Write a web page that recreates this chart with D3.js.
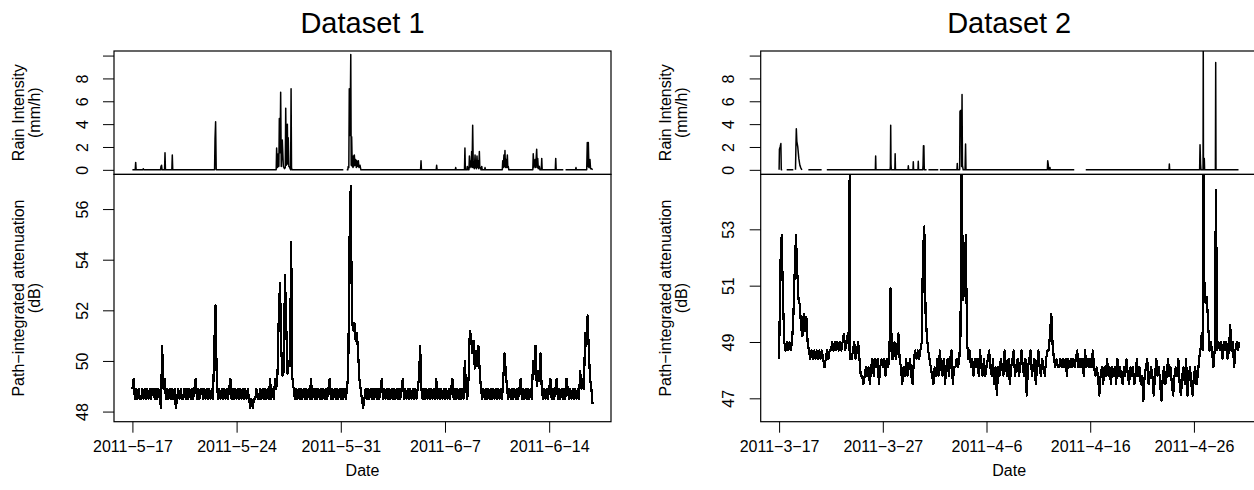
<!DOCTYPE html>
<html>
<head>
<meta charset="utf-8">
<script src="https://cdn.jsdelivr.net/npm/d3@7"></script>
<style>
  body { margin: 0; background: #fff; }
  text { font-family: "Liberation Sans", Arial, Helvetica, sans-serif; fill: #000; }
</style>
</head>
<body>
<svg id="chart" width="1254" height="490"></svg>
<script>
// ---- data ----
var start1 = "2011-05-17", start2 = "2011-03-17";
var ticks1 = ["2011-05-17", "2011-05-24", "2011-05-31", "2011-06-07", "2011-06-14"];
var ticks2 = ["2011-03-17", "2011-03-27", "2011-04-06", "2011-04-16", "2011-04-26"];
var rainTicks = [0, 2, 4, 6, 8, 10];
var attTicks1 = [48, 50, 52, 54, 56];
var attTicks2 = [47, 49, 51, 53];

// rain intensity (mm/h): [days since start, value], null = missing data
var rain1 = [
  [0,0],[0.19,0],[0.22,0.65],[0.25,0],[0.7,0],[0.73,0.1],[0.76,0],[1.89,0],[1.92,0.3],[1.96,0.4],[1.99,0],
  [2.16,0],[2.19,1.5],[2.22,0],[2.65,0],[2.68,1.3],[2.71,0],[5.52,0],[5.55,2.7],[5.59,4.2],[5.63,0],
  [9.66,0],[9.69,1.9],[9.73,0.2],[9.77,0.3],[9.8,1.4],[9.84,0.3],[9.87,4.5],[9.92,1.5],[9.96,6.8],[10.0,0.3],
  [10.07,2.6],[10.14,0.3],[10.22,0.1],[10.27,0.2],[10.3,5.4],[10.34,0.4],[10.37,3.0],[10.41,4.0],[10.44,0.5],
  [10.47,2.8],[10.51,0.3],[10.54,0.3],[10.6,0.1],[10.63,0],[10.66,7.1],[10.69,0.2],[10.72,0],[14.17,0], null,
  [14.4,0],[14.47,0],[14.5,0.3],[14.54,0.2],[14.57,7.1],[14.62,3.0],[14.67,10.1],[14.7,0.4],[14.73,2.9],[14.77,0.3],
  [14.8,0.9],[14.82,0.2],[14.84,1.2],[14.87,0.3],[14.91,1.3],[14.95,0.4],[15.0,0.9],[15.04,0.2],[15.07,0.8],
  [15.12,0.3],[15.18,0.8],[15.22,0.2],[15.29,0.4],[15.35,0],[19.36,0],[19.39,0.8],[19.42,0],[20.41,0],[20.44,0.4],
  [20.47,0],[21.69,0],[21.72,0.2],[21.75,0],[22.31,0],[22.34,1.9],[22.37,0],[22.47,0],[22.5,0.3],[22.56,0],
  [22.61,0],[22.64,1.2],[22.68,0.2],[22.73,0.8],[22.76,0.3],[22.79,1.6],[22.82,0.2],[22.86,3.9],[22.9,0.2],
  [22.93,0.5],[22.97,0.1],[23.02,1.3],[23.05,0.2],[23.08,0.6],[23.11,0.1],[23.15,1.2],[23.19,0.2],[23.24,0.8],
  [23.27,0.1],[23.31,1.6],[23.34,0.2],[23.37,0.2],[23.42,0],[23.47,0.3],[23.5,0],[23.66,0],[23.69,0.2],[23.72,0],
  [24.85,0],[24.88,0.8],[24.92,0.2],[24.96,1.3],[25.0,0.3],[25.03,1.7],[25.06,0.2],[25.1,0.9],[25.14,0.2],
  [25.19,1.3],[25.22,0.2],[25.25,0.3],[25.29,0],[26.9,0],[26.93,1.4],[26.97,0.2],[27.05,0.9],[27.09,0.2],
  [27.16,1.8],[27.2,0.2],[27.23,1.0],[27.27,0.1],[27.34,0.3],[27.38,0],[27.47,0],[27.5,1.0],[27.53,0],
  [28.41,0],[28.44,1.0],[28.47,0],[28.95,0], null,
  [29.1,0],[29.77,0],[29.8,0.2],[29.83,0],[30.52,0],[30.56,2.4],[30.6,0.3],[30.63,2.4],[30.67,0.2],[30.74,0.9],
  [30.78,0.1],[30.85,0.1],[30.92,0]
];

var rain2 = [
  [0,0],[0.03,1.8],[0.1,2.0],[0.17,2.3],[0.21,0],[0.3,0], null,
  [0.73,0],[1.37,0], null,
  [1.58,0],[1.62,2.0],[1.66,3.6],[1.71,2.5],[1.8,2.0],[1.9,1.0],[2.0,0.4],[2.1,0.15],[2.2,0], null,
  [2.82,0],[4.1,0], null,
  [4.6,0],[9.28,0],[9.31,1.2],[9.34,0],[10.7,0],[10.73,0.3],[10.76,3.9],[10.79,0.5],[10.82,0],[11.16,0],
  [11.19,1.4],[11.22,0],[12.43,0],[12.46,0.35],[12.49,0],[12.91,0],[12.94,0.7],[12.97,0],[13.39,0],[13.42,0.75],
  [13.45,0],[13.85,0],[13.88,0.4],[13.92,2.1],[13.96,2.1],[14.0,0],[14.22,0], null,
  [14.4,0],[15.35,0], null,
  [15.5,0],[17.15,0],[17.18,0.55],[17.21,0],[17.41,0],[17.44,5.1],[17.5,5.2],[17.55,5.2],[17.6,0.3],[17.64,6.6],
  [17.68,0.4],[17.75,0],[17.93,0],[17.98,2.25],[18.02,0],[25.87,0],[25.9,0.8],[25.95,0.5],[26.0,0],[26.1,0],
  [26.12,0.2],[26.14,0],[28.46,0], null,
  [29.57,0],[37.6,0],[37.63,0.5],[37.66,0],[40.55,0],[40.59,2.2],[40.64,0.5],[40.68,0],[40.88,0],[40.9,12],
  [40.92,0],[40.98,0],[41.0,1.0],[41.03,0],[42.07,0],[42.1,9.4],[42.13,0],[44.3,0]
];

// path-integrated attenuation (dB), dataset 1 every 2 hours (one row per day)
var att1PerDay = 12;
var att1 = [
  48.9,49.3,48.5,48.9,48.5,48.9,48.5,48.5,48.9,48.5,48.9,48.5,
  48.9,48.5,48.9,48.5,48.9,48.9,48.5,48.9,48.5,48.9,48.5,48.15,
  50.6,48.9,49.3,48.5,48.9,48.5,48.9,48.5,48.9,48.5,48.9,48.15,
  48.5,48.9,48.5,48.9,48.5,48.5,48.9,48.5,48.9,48.5,48.9,48.5,
  48.9,48.5,48.9,49.3,48.5,48.9,48.5,48.9,48.9,48.5,48.9,48.5,
  48.9,48.5,48.9,48.5,48.9,48.5,50.6,52.2,49.3,48.5,48.9,48.5,
  48.9,48.5,48.9,48.5,48.9,48.5,48.9,49.3,48.5,48.9,48.5,48.9,
  48.5,48.9,48.5,48.9,48.5,48.9,48.5,48.9,48.5,48.9,48.5,48.15,
  48.5,48.15,48.5,48.5,48.9,48.5,48.5,48.9,48.5,48.9,48.5,48.9,
  48.5,48.9,48.5,49.3,48.5,48.9,48.5,49.3,48.9,49.5,51.8,53.1,
  50.5,49.4,49.6,53.4,51.5,49.5,50.0,49.8,54.7,49.3,48.9,48.5,
  48.9,48.5,48.9,48.5,48.9,48.5,48.9,48.5,48.9,48.5,48.9,48.5,
  49.3,48.5,48.9,48.5,48.9,48.5,48.9,48.5,48.9,48.5,48.9,48.5,
  48.9,48.5,48.9,49.3,48.5,48.9,48.5,48.9,48.5,48.9,48.5,48.9,
  48.5,48.9,48.5,48.9,48.5,48.9,49.5,54.7,56.9,51.6,51.2,51.5,
  50.8,51.1,50.3,49.3,48.9,48.5,48.15,48.5,48.9,48.5,48.9,48.5,
  48.9,48.5,48.9,48.5,48.9,48.5,48.9,48.5,48.9,49.3,48.5,48.9,
  48.5,48.9,48.5,48.9,48.5,48.9,48.5,48.9,48.5,48.9,48.5,48.9,
  48.5,48.9,49.3,48.5,48.9,48.5,48.9,48.5,48.9,48.5,48.9,48.5,
  48.9,48.5,48.9,49.3,50.6,48.9,48.5,48.9,48.5,48.9,48.5,48.9,
  48.5,48.9,48.5,48.9,48.5,49.3,48.5,48.9,48.5,48.9,48.5,48.9,
  48.5,48.9,48.5,48.9,48.5,48.9,49.3,48.5,48.9,48.5,48.9,48.5,
  48.9,48.5,48.9,48.5,50.0,48.9,48.5,49.3,51.2,51.0,50.3,50.8,
  49.7,50.4,49.8,50.6,49.6,48.9,48.5,48.9,48.5,48.9,48.5,48.9,
  48.5,48.9,48.5,48.9,48.5,48.9,48.5,48.9,48.5,48.9,48.5,49.3,
  50.3,49.6,48.9,48.5,48.9,48.5,48.9,48.5,48.9,48.5,48.9,48.5,
  48.9,49.3,48.5,48.9,48.5,48.9,48.5,48.9,48.5,48.9,48.5,50.0,
  49.5,50.6,49.0,49.6,49.2,50.3,48.9,48.5,48.9,48.5,48.9,48.5,
  48.9,49.3,48.5,48.9,48.5,48.9,49.3,48.5,48.9,48.5,48.9,48.5,
  48.9,48.5,49.3,48.9,48.5,48.9,48.5,48.9,48.5,48.9,48.5,48.9,
  48.5,49.6,48.9,49.3,48.9,51.1,50.6,51.8,50.3,49.3,48.9,48.3
];
var att1Spikes = [];

// dataset 2 every 3 hours (one row per day)
var att2PerDay = 8;
var att2 = [
  48.4,51.8,52.8,50.5,49.0,48.7,49.0,48.7,
  49.0,48.7,49.0,49.9,51.5,52.8,51.5,50.5,
  50.3,49.5,49.2,50.0,49.4,49.9,49.0,48.7,
  48.4,48.7,48.4,48.7,48.4,48.7,48.4,48.7,
  48.4,48.7,48.4,48.1,48.4,48.7,48.4,48.7,
  48.7,49.0,48.7,49.0,48.7,49.0,48.7,49.0,
  48.7,49.0,49.3,48.7,49.0,49.3,48.7,48.4,
  48.4,48.7,49.0,48.4,48.7,49.0,48.4,47.8,
  47.8,47.5,47.8,48.1,47.8,48.1,47.5,48.1,
  48.4,47.8,48.4,48.1,48.4,47.5,48.1,48.4,
  48.1,48.4,47.8,48.4,48.1,48.4,50.9,48.4,
  48.4,49.0,48.4,48.7,49.3,48.4,48.1,47.5,
  48.1,47.8,48.4,47.8,48.1,48.4,47.8,47.5,
  48.4,48.7,48.4,48.7,48.4,48.7,49.0,52.2,
  53.1,50.0,49.2,48.7,48.4,48.1,47.8,47.5,
  48.1,47.8,48.4,47.8,48.7,48.1,47.8,48.4,
  47.5,48.1,48.4,47.8,48.4,48.7,47.5,48.1,
  48.1,48.4,48.1,48.4,49.3,54.4,50.5,51.0,
  52.8,49.0,48.4,48.7,48.1,48.4,47.8,48.4,
  48.1,48.4,47.8,48.7,48.1,47.8,48.4,47.8,
  48.1,48.4,48.7,48.1,47.8,48.4,47.5,48.1,
  47.1,48.1,47.8,48.4,48.1,47.8,48.7,48.1,
  47.8,48.4,47.5,48.1,48.4,48.7,47.8,48.1,
  48.4,47.8,48.1,48.7,48.1,47.8,48.4,47.1,
  48.1,48.4,48.7,47.8,48.1,48.4,47.5,48.1,
  48.7,48.1,47.8,48.4,48.1,47.8,48.4,48.7,
  48.7,49.3,50.0,48.9,48.4,48.1,48.4,48.1,
  48.1,48.4,48.1,48.4,48.1,48.4,47.8,48.4,
  48.1,48.4,48.1,48.4,48.1,48.4,48.7,48.1,
  48.4,48.1,48.4,47.8,48.7,48.1,48.4,48.1,
  48.4,48.1,48.7,48.1,47.8,48.1,47.8,47.1,
  47.8,48.1,47.5,48.1,47.8,48.4,47.8,48.1,
  47.5,48.1,47.8,48.1,47.5,48.4,47.8,48.1,
  47.8,47.5,48.1,47.8,48.4,47.8,47.5,48.1,
  47.8,48.1,47.5,47.8,48.4,47.8,48.1,47.5,
  47.8,46.9,47.8,48.1,48.4,47.5,47.8,48.1,
  47.8,47.1,47.8,48.4,47.8,48.1,47.5,46.9,
  47.8,48.1,47.5,47.8,48.4,47.8,48.1,47.5,
  47.1,47.8,48.1,47.8,48.4,47.5,47.1,47.8,
  48.1,47.5,48.4,47.1,47.8,48.1,47.5,47.1,
  47.8,48.1,47.5,47.8,48.4,48.7,49.3,48.7,
  51.2,50.4,50.6,49.6,48.7,49.0,48.7,48.1,
  48.7,54.4,48.7,49.0,48.7,49.0,48.4,49.0,
  48.7,49.0,48.4,48.7,49.6,48.7,49.0,48.1,
  48.7,49.0,48.7,49.0
];
// short off-scale readings between samples: [days since start, dB]
var att2Spikes = [[6.86, 62], [17.55, 62], [40.9, 62]];

// ---- layout ----
var plotW = 497, topY = 51, midY = 174.4, botY = 421.7;
var DAY = 864e5;
var parse = d3.timeParse("%Y-%m-%d");
var fmt = d3.timeFormat("%Y\u2212%-m\u2212%-d");
var svg = d3.select("#chart");

function dayDate(start, d) { return new Date(start.getTime() + d * DAY); }

function drawPanel(p) {
  var start = parse(p.start);
  var span = (p.att.length - 1) / p.perDay;
  var pad = span * 0.04;
  var x = d3.scaleTime()
      .domain([dayDate(start, -pad), dayDate(start, span + pad)])
      .range([p.left, p.left + plotW]);
  var yRain = d3.scaleLinear().domain([-0.4, 10.4]).range([midY, topY]);
  var yAtt = d3.scaleLinear().domain(p.attLim).range([botY, midY]);

  // clip regions
  var defs = svg.append("defs");
  defs.append("clipPath").attr("id", "clipR" + p.id)
    .append("rect").attr("x", p.left).attr("y", topY).attr("width", plotW).attr("height", midY - topY);
  defs.append("clipPath").attr("id", "clipA" + p.id)
    .append("rect").attr("x", p.left).attr("y", midY).attr("width", plotW).attr("height", botY - midY);

  // rain line
  var rainPts = p.rain.map(function(r) { return r ? { t: dayDate(start, r[0]), v: r[1] } : null; });
  var rainLine = d3.line()
      .defined(function(d) { return d !== null; })
      .x(function(d) { return x(d.t); })
      .y(function(d) { return yRain(d.v); });
  svg.append("path")
    .datum(rainPts)
    .attr("clip-path", "url(#clipR" + p.id + ")")
    .attr("d", rainLine)
    .attr("fill", "none")
    .attr("stroke", "#000")
    .attr("stroke-width", 1.5)
    .attr("stroke-linejoin", "round");

  // attenuation line
  var attPts = p.att.map(function(v, i) { return { t: dayDate(start, i / p.perDay), v: v }; })
    .concat(p.spikes.map(function(s) { return { t: dayDate(start, s[0]), v: s[1] }; }))
    .sort(function(a, b) { return a.t - b.t; });
  var attLine = d3.line()
      .x(function(d) { return x(d.t); })
      .y(function(d) { return yAtt(d.v); });
  svg.append("path")
    .datum(attPts)
    .attr("clip-path", "url(#clipA" + p.id + ")")
    .attr("d", attLine)
    .attr("fill", "none")
    .attr("stroke", "#000")
    .attr("stroke-width", 2.2)
    .attr("stroke-linejoin", "round")
    .attr("shape-rendering", "crispEdges");

  // boxes
  svg.append("rect")
    .attr("x", p.left).attr("y", topY).attr("width", plotW).attr("height", midY - topY)
    .attr("fill", "none").attr("stroke", "#000").attr("stroke-width", 1.2);
  svg.append("rect")
    .attr("x", p.left).attr("y", midY).attr("width", plotW).attr("height", botY - midY)
    .attr("fill", "none").attr("stroke", "#000").attr("stroke-width", 1.2);

  // x axis
  var gx = svg.append("g")
    .attr("transform", "translate(0," + botY + ")")
    .call(d3.axisBottom(x).tickValues(p.ticks.map(parse)).tickFormat(fmt).tickSize(11).tickSizeOuter(0));
  gx.select(".domain").remove();
  gx.attr("font-size", 16).attr("font-family", null);
  gx.selectAll("line").attr("stroke", "#000");
  gx.selectAll("text").attr("y", 30).attr("dy", 0);

  // y axes, labels parallel to the axis
  function yAxis(scale, values, hideLast) {
    var g = svg.append("g")
      .attr("transform", "translate(" + p.left + ",0)")
      .call(d3.axisLeft(scale).tickValues(values).tickSize(11)
        .tickFormat(function(d, i) { return hideLast && i === values.length - 1 ? "" : d; }));
    g.select(".domain").remove();
    g.attr("font-size", 16).attr("font-family", null);
    g.selectAll("line").attr("stroke", "#000");
    g.selectAll("text")
      .attr("x", 0).attr("y", -26.5).attr("dy", 0)
      .attr("text-anchor", "middle")
      .attr("transform", "rotate(-90)");
  }
  yAxis(yRain, rainTicks, true);
  yAxis(yAtt, p.attTicks, false);

  // axis titles
  function yTitle(lines, cy) {
    lines.forEach(function(s, i) {
      svg.append("text")
        .attr("transform", "translate(" + (p.left - 90 + i * 16) + "," + cy + ") rotate(-90)")
        .attr("text-anchor", "middle")
        .style("font-size", "16px")
        .text(s);
    });
  }
  yTitle(["Rain Intensity", "(mm/h)"], (topY + midY) / 2);
  yTitle(["Path\u2212integrated attenuation", "(dB)"], (midY + botY) / 2);

  var cx = p.left + plotW / 2;
  svg.append("text")
    .attr("x", cx).attr("y", 476)
    .attr("text-anchor", "middle")
    .style("font-size", "16px")
    .text("Date");
  svg.append("text")
    .attr("x", cx).attr("y", 33)
    .attr("text-anchor", "middle")
    .style("font-size", "29px")
    .text(p.title);
}

drawPanel({ id: 1, title: "Dataset 1", left: 114, start: start1, ticks: ticks1,
  rain: rain1, att: att1, perDay: att1PerDay, spikes: att1Spikes,
  attLim: [47.6, 57.37], attTicks: attTicks1 });
drawPanel({ id: 2, title: "Dataset 2", left: 760.7, start: start2, ticks: ticks2,
  rain: rain2, att: att2, perDay: att2PerDay, spikes: att2Spikes,
  attLim: [46.17, 54.95], attTicks: attTicks2 });
</script>
</body>
</html>
